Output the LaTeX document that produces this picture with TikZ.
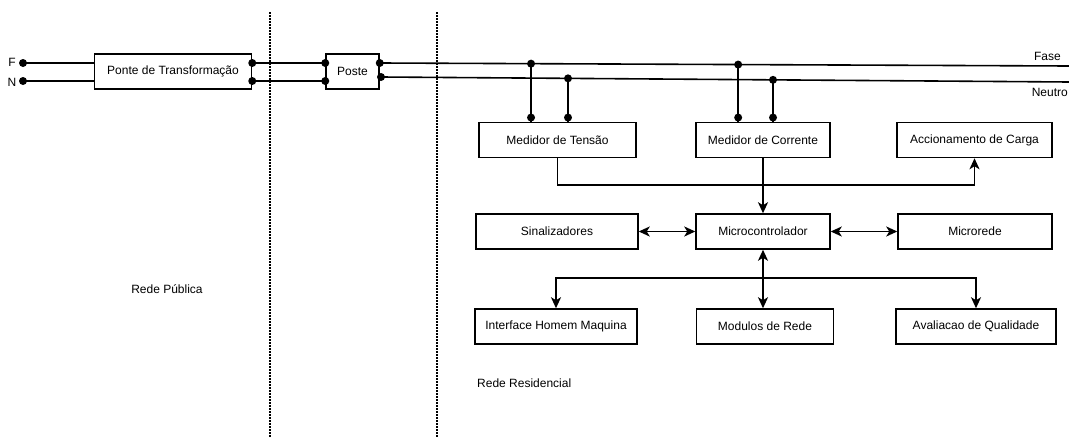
\documentclass[tikz,border=0pt]{standalone}
\usepackage{fontspec}
\setmainfont{Liberation Sans}
\usetikzlibrary{arrows.meta}

\begin{document}
\begin{tikzpicture}[x=1pt,y=-1pt,
 box/.style={draw,line width=1.5pt,minimum height=35pt,inner sep=0pt,
 font=\fontsize{12}{14}\selectfont},
 lbl/.style={inner sep=0pt,font=\fontsize{12}{14}\selectfont},
 wire/.style={line width=1.6pt},
 arr/.style={-{Stealth[length=11pt,width=10pt,inset=3pt]},line width=1.8pt},
 darr/.style={{Stealth[length=11pt,width=10pt,inset=3pt]}-{Stealth[length=11pt,width=10pt,inset=3pt]},line width=1.8pt},
 dot/.style={circle,fill,inner sep=0pt,minimum size=8pt},
 sep/.style={line width=1.5pt,dash pattern=on 1.5pt off 1.5pt}]
 \useasboundingbox (0,0) rectangle (1069,439);
 % divisores
 \draw[sep] (270,12) -- (270,437);
 \draw[sep] (437,12) -- (437,437);
 \node[lbl] (publica) at (167,289) {Rede Pública};
 \node[lbl,anchor=west] (residencial) at (477,383) {Rede Residencial};
 % entrada
 \node[lbl] (F) at (12,62) {F};
 \node[lbl] (N) at (12,82) {N};
 \node[dot] (fin) at (23,63) {};
 \node[dot] (nin) at (23,81) {};
 \node[box,minimum width=157pt] (ponte) at (173,71.5) {Ponte de Transformação};
 \node[box,minimum width=53pt] (poste) at (352.5,71.5) {Poste};
 \node[dot] (pf) at (ponte.east |- fin) {};
 \node[dot] (pn) at (ponte.east |- nin) {};
 \node[dot] (qf) at (poste.west |- fin) {};
 \node[dot] (qn) at (poste.west |- nin) {};
 \node[dot] (sf) at (poste.east |- fin) {};
 \node[dot] (sn) at (381,77) {};
 \draw[wire] (fin.center) -- (fin -| ponte.west);
 \draw[wire] (nin.center) -- (nin -| ponte.west);
 \draw[wire] (pf.center) -- (qf.center);
 \draw[wire] (pn.center) -- (qn.center);
 % fase e neutro
 \coordinate (fe) at (1069,66);
 \coordinate (ne) at (1069,82);
 \node[lbl,anchor=east] (fase) at (1061,56) {Fase};
 \node[lbl,anchor=east] (neutro) at (1068,92) {Neutro};
 \draw[wire] (sf.center) -- coordinate[pos=.2195] (t1) coordinate[pos=.52] (c1) (fe);
 \draw[wire] (sn.center) -- coordinate[pos=.2718] (t2) coordinate[pos=.5698] (c2) (ne);
 % blocos
 \node[box,minimum width=157pt] (tensao) at (557.5,140) {Medidor de Tensão};
 \node[box,minimum width=134pt] (corrente) at (763,140) {Medidor de Corrente};
 \node[box,minimum width=155pt] (carga) at (974.5,140) {Accionamento de Carga};
 \node[box,minimum width=162pt] (sinal) at (557,231.5) {Sinalizadores};
 \node[box,minimum width=134pt] (micro) at (763,231.5) {Microcontrolador};
 \node[box,minimum width=154pt] (microrede) at (975,231.5) {Microrede};
 \node[box,minimum width=162pt] (ihm) at (556,326.5) {Interface Homem Maquina};
 \node[box,minimum width=137pt] (modulos) at (765,326.5) {Modulos de Rede};
 \node[box,minimum width=160pt] (qualidade) at (976,326.5) {Avaliacao de Qualidade};
 % derivacoes
 \foreach \t/\b in {t1/tensao,t2/tensao,c1/corrente,c2/corrente}{
 \node[dot] at (\t) {};
 \node[dot,anchor=south] at (\t |- \b.north) {};
 \draw[wire] (\t) -- (\t |- \b.north);
 }
 % ligacoes
 \draw[arr] (tensao.south) -- ++(0,27) -| (carga.south);
 \draw[arr] (corrente.south) -- (micro.north);
 \draw[darr] (sinal) -- (micro);
 \draw[darr] (micro) -- (microrede);
 \draw[darr] (micro.south) -- (micro.south |- modulos.north);
 \coordinate (br) at (micro.south |- 0,278);
 \draw[arr] (br) -| (ihm.north);
 \draw[arr] (br) -| (qualidade.north);
\end{tikzpicture}
\end{document}
